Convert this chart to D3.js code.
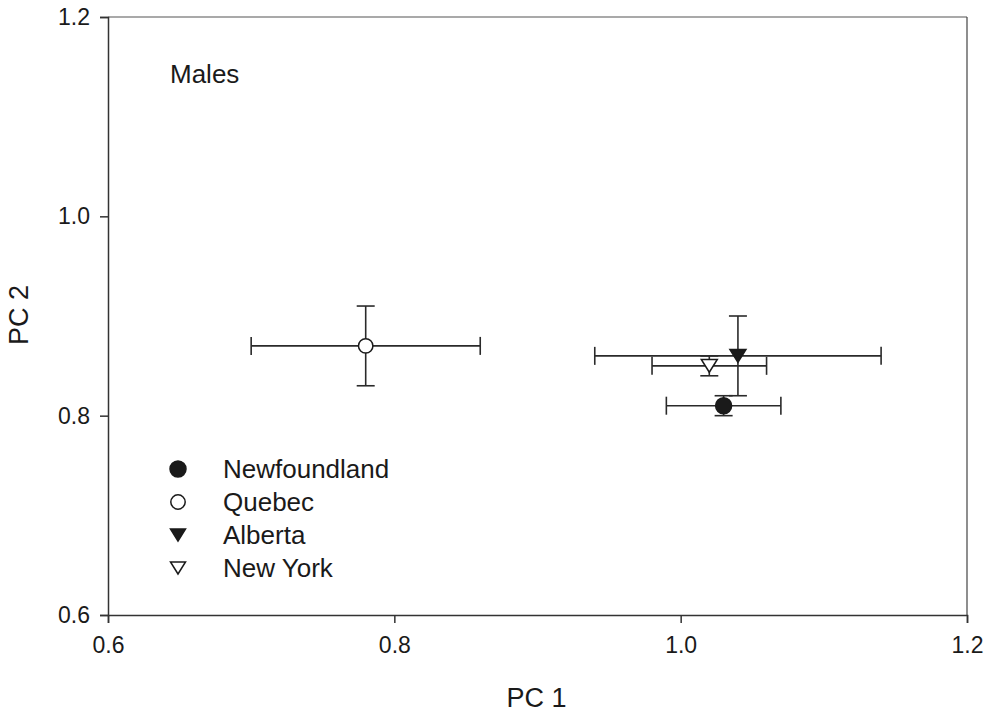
<!DOCTYPE html>
<html>
<head>
<meta charset="utf-8">
<script src="https://cdn.jsdelivr.net/npm/d3@7"></script>
<style>
  body { margin: 0; background: #fff; }
  svg { display: block; font-family: "Liberation Sans", Arial, sans-serif; }
</style>
</head>
<body>
<svg id="chart" width="990" height="714"></svg>
<script>
// ---- Data ----
const regions = ["Newfoundland", "Quebec", "Alberta", "New York"];
const pc1 = [1.03, 0.78, 1.04, 1.02];
const pc1Low = [0.99, 0.70, 0.94, 0.98];
const pc1High = [1.07, 0.86, 1.14, 1.06];
const pc2 = [0.81, 0.87, 0.86, 0.85];
const pc2Low = [0.80, 0.83, 0.82, 0.84];
const pc2High = [0.82, 0.91, 0.90, 0.86];
const symbols = ["circleFilled", "circleOpen", "triFilled", "triOpen"];
const xTicks = [0.6, 0.8, 1.0, 1.2];
const yTicks = [0.6, 0.8, 1.0, 1.2];

// ---- Layout ----
const svg = d3.select("#chart");
const mLeft = 108, mRight = 967, mTop = 17, mBottom = 615;
const x = d3.scaleLinear().domain([0.6, 1.2]).range([mLeft, mRight]);
const y = d3.scaleLinear().domain([0.6, 1.2]).range([mBottom, mTop]);
const ink = "#1a1a1a";

// frame (top & right)
svg.append("line").attr("x1", mLeft).attr("x2", mRight).attr("y1", mTop).attr("y2", mTop)
  .attr("stroke", "#555").attr("stroke-width", 1.2);
svg.append("line").attr("x1", mRight).attr("x2", mRight).attr("y1", mTop).attr("y2", mBottom)
  .attr("stroke", "#444").attr("stroke-width", 1.2);

// axes
const xAxis = svg.append("g").attr("transform", `translate(0,${mBottom})`)
  .call(d3.axisBottom(x).tickValues(xTicks).tickFormat(d3.format(".1f")).tickSize(8).tickPadding(10));
const yAxis = svg.append("g").attr("transform", `translate(${mLeft},0)`)
  .call(d3.axisLeft(y).tickValues(yTicks).tickFormat(d3.format(".1f")).tickSize(8).tickPadding(10));
[xAxis, yAxis].forEach(g => {
  g.select(".domain").attr("stroke", "#333").attr("stroke-width", 1.5);
  g.selectAll(".tick line").attr("stroke", "#333").attr("stroke-width", 1.5);
  g.selectAll(".tick text").attr("fill", ink).style("font-size", "23px")
    .style("font-family", "'Liberation Sans', Arial, sans-serif");
});
xAxis.selectAll(".tick text").attr("dy", "0.85em");

// axis titles
svg.append("text").attr("x", (mLeft + mRight) / 2 - 1).attr("y", 707)
  .attr("text-anchor", "middle").attr("fill", ink).style("font-size", "27px").text("PC 1");
svg.append("text").attr("transform", "translate(28,315) rotate(-90)")
  .attr("text-anchor", "middle").attr("fill", ink).style("font-size", "27px").text("PC 2");

// panel label
svg.append("text").attr("x", 170).attr("y", 83).attr("fill", ink)
  .style("font-size", "26px").text("Males");

// data
const data = regions.map((r, i) => ({
  r, x: pc1[i], xl: pc1Low[i], xh: pc1High[i], y: pc2[i], yl: pc2Low[i], yh: pc2High[i], s: symbols[i]
}));
const cap = 9;
const eb = svg.append("g").attr("stroke", "#2a2a2a").attr("stroke-width", 1.6).attr("fill", "none");
data.forEach(d => {
  eb.append("line").attr("x1", x(d.xl)).attr("x2", x(d.xh)).attr("y1", y(d.y)).attr("y2", y(d.y));
  eb.append("line").attr("x1", x(d.xl)).attr("x2", x(d.xl)).attr("y1", y(d.y) - cap).attr("y2", y(d.y) + cap);
  eb.append("line").attr("x1", x(d.xh)).attr("x2", x(d.xh)).attr("y1", y(d.y) - cap).attr("y2", y(d.y) + cap);
  eb.append("line").attr("x1", x(d.x)).attr("x2", x(d.x)).attr("y1", y(d.yl)).attr("y2", y(d.yh));
  eb.append("line").attr("x1", x(d.x) - cap).attr("x2", x(d.x) + cap).attr("y1", y(d.yl)).attr("y2", y(d.yl));
  eb.append("line").attr("x1", x(d.x) - cap).attr("x2", x(d.x) + cap).attr("y1", y(d.yh)).attr("y2", y(d.yh));
});

function drawMarker(g, s, cx, cy, size) {
  const filled = s.endsWith("Filled");
  if (s.startsWith("circle")) {
    g.append("circle").attr("cx", cx).attr("cy", cy).attr("r", size / 2 - (filled ? 0 : 0.8))
      .attr("fill", filled ? ink : "#fff").attr("stroke", ink).attr("stroke-width", 1.5);
  } else {
    const w = size, h = size * 0.8;
    const pts = [[cx - w / 2, cy - h / 2], [cx + w / 2, cy - h / 2], [cx, cy + h / 2]];
    g.append("path").attr("d", d3.line()(pts) + "Z")
      .attr("fill", filled ? ink : "#fff").attr("stroke", ink).attr("stroke-width", 1.5)
      .attr("stroke-linejoin", "miter");
  }
}
const mk = svg.append("g");
data.forEach(d => drawMarker(mk, d.s, x(d.x), y(d.y), 16));

// legend
const lg = svg.append("g");
const legY0 = 469, legDy = 33;
data.forEach((d, i) => {
  drawMarker(lg, d.s, 178, legY0 + i * legDy, d.s.startsWith("circle") ? 16 : 15);
  lg.append("text").attr("x", 223).attr("y", legY0 + i * legDy + 9).attr("fill", ink)
    .style("font-size", "26px").text(d.r);
});
</script>
</body>
</html>
